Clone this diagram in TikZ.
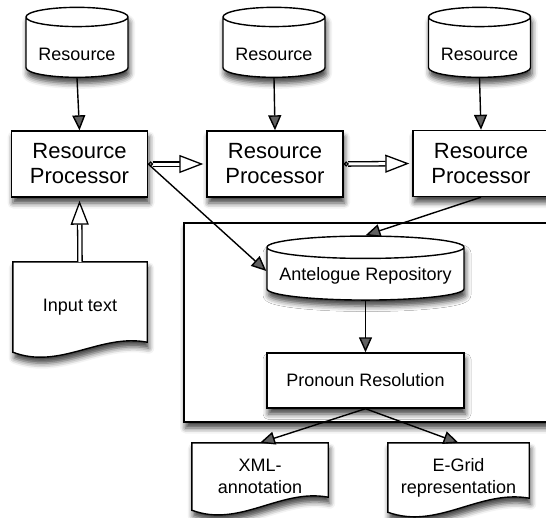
\documentclass[tikz,border=0pt]{standalone}
\usepackage{fontspec}
\setmainfont{Liberation Sans}
\usetikzlibrary{shapes.geometric,arrows.meta,calc,shadows.blur}
\newcommand\docpath[2]{%
  \draw[docdraw] (#1.north west) -- (#1.north east) -- ($(#1.south east)+(0,-#2)$)
    .. controls ($(#1.south east)!0.35!(#1.south west)+(0,-#2-9)$) and ($(#1.south west)!0.35!(#1.south east)+(0,18)$) .. (#1.south west) -- cycle;}
\begin{document}
\begin{tikzpicture}[x=1pt,y=-1pt,
  shad/.style={blur shadow={shadow xshift=1.5pt,shadow yshift=-6pt,shadow blur radius=5.5pt,shadow opacity=75}},
  base/.style={draw=black, line width=1.4pt, fill=white, shad, inner sep=0pt, align=center},
  cyl/.style={base, cylinder, shape border rotate=90, aspect=0.25, font=\fontsize{18}{21.7}\selectfont},
  proc/.style={base, rectangle, minimum width=136pt, minimum height=66pt, font=\fontsize{22}{25}\selectfont},
  docframe/.style={rectangle, inner sep=0pt},
  doc/.style={inner sep=0pt, align=center, font=\fontsize{18}{21.7}\selectfont},
  docdraw/.style={draw=black, line width=1.4pt, fill=white, shad},
  conn/.style={line width=1.4pt, -{Triangle[length=15pt,width=13pt]}},
  htip/.style={-{Triangle[fill=white,length=24pt,width=18pt,line width=1.3pt]}},
  hollow/.style={double=white, double distance=3pt, line width=1.3pt, shorten >=3pt, htip},
  hollowc/.style={hollow, {Circle[fill=white,length=5pt,line width=1.3pt]}-{Triangle[fill=white,length=24pt,width=18pt,line width=1.3pt]}}
]
\useasboundingbox (0,0) rectangle (546,517);
\clip (0,0) rectangle (546,517);
% container
\node[base, rectangle, minimum width=416pt, minimum height=199pt] (box) at (392,322.5) {};
% resources
\node[cyl, minimum width=102pt, minimum height=70pt, text height=31pt, text depth=5pt] (r1) at (77,47.5) {Resource};
\node[cyl, minimum width=102pt, minimum height=70pt, text height=31pt, text depth=5pt] (r2) at (274,47.5) {Resource};
\node[cyl, minimum width=102pt, minimum height=70pt, text height=31pt, text depth=5pt] (r3) at (479.5,47.5) {Resource};
% processors
\node[proc] (p1) at (79.5,164) {Resource\\Processor};
\node[proc] (p2) at (275,164) {Resource\\Processor};
\node[proc] (p3) at (481,163.5) {Resource\\Processor};
% documents
\node[docframe, minimum width=134pt, minimum height=90pt] (in) at (80,307) {};
\docpath{in}{10}
\node[doc] (intext) at (in.center) {Input text};
\node[docframe, minimum width=136pt, minimum height=67pt] (xml) at (260,476.5) {};
\docpath{xml}{13}
\node[doc] (xmltext) at (xml.center) {XML-\\annotation};
\node[docframe, minimum width=141pt, minimum height=69pt] (eg) at (458.5,477.5) {};
\docpath{eg}{14}
\node[doc] (egtext) at (eg.center) {E-Grid\\representation};
% inner nodes
\node[cyl, aspect=0.13, minimum width=197pt, minimum height=64pt, text height=17pt, text depth=5pt] (ar) at (365.5,274) {Antelogue Repository};
\node[base, rectangle, minimum width=197pt, minimum height=55pt, font=\fontsize{18}{21.7}\selectfont] (pr) at (365.5,380.5) {Pronoun Resolution};
% connectors
\draw[conn] (r1.south) -- (p1.north);
\draw[conn] (r2.south) -- (p2.north);
\draw[conn] (r3.south) -- (p3.north);
\draw[conn] (p1.east) -- ([yshift=3pt]ar.west);
\draw[conn] (p3.south) -- (ar.north);
\draw[conn] (ar.south) -- (pr.north);
\draw[conn] (pr.south) -- (xml.north);
\draw[conn] (pr.south) -- (eg.north);
\draw[hollowc] (p1.east) -- (p2.west);
\draw[hollowc] (p2.east) -- (p3.west);
\draw[hollow] (in.north) -- (p1.south);
\end{tikzpicture}
\end{document}
